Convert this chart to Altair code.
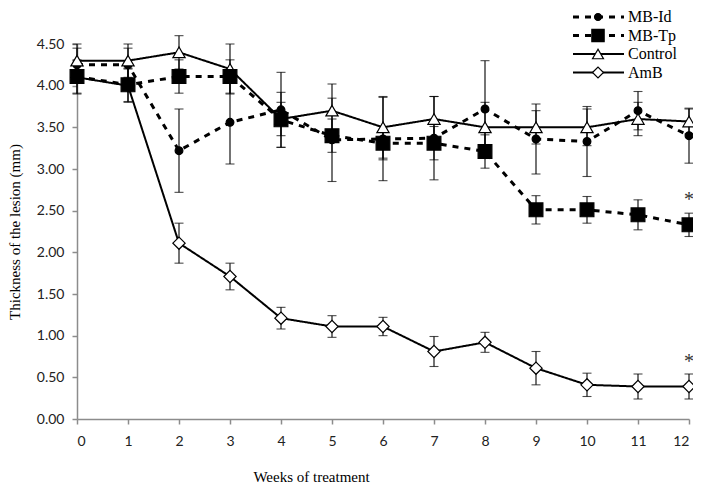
import altair as alt
import pandas as pd

weeks = list(range(13))
series_names = ["MB-Id", "MB-Tp", "Control", "AmB"]

mbid = [4.25, 4.25, 3.22, 3.56, 3.71, 3.35, 3.36, 3.37, 3.72, 3.36, 3.33, 3.70, 3.40]
mbid_err = [0.20, 0.20, 0.50, 0.50, 0.45, 0.50, 0.50, 0.50, 0.58, 0.42, 0.42, 0.23, 0.33]
mbtp = [4.11, 4.01, 4.11, 4.11, 3.59, 3.40, 3.31, 3.31, 3.21, 2.51, 2.51, 2.45, 2.33]
mbtp_err = [0.20, 0.20, 0.20, 0.20, 0.33, 0.20, 0.20, 0.20, 0.20, 0.17, 0.16, 0.18, 0.14]
control = [4.30, 4.30, 4.40, 4.20, 3.60, 3.70, 3.50, 3.60, 3.50, 3.50, 3.50, 3.60, 3.57]
control_err = [0.20, 0.20, 0.20, 0.30, 0.20, 0.32, 0.37, 0.27, 0.30, 0.20, 0.22, 0.20, 0.15]
amb = [4.10, 4.00, 2.11, 1.71, 1.21, 1.11, 1.11, 0.81, 0.92, 0.61, 0.41, 0.39, 0.39]
amb_err = [0.20, 0.20, 0.24, 0.16, 0.13, 0.13, 0.11, 0.18, 0.12, 0.20, 0.14, 0.15, 0.15]

star_weeks = [12, 12]
star_values = [2.68, 0.73]

y_ticks = [0.0, 0.5, 1.0, 1.5, 2.0, 2.5, 3.0, 3.5, 4.0, 4.5]


def frame(name, vals, errs):
    return pd.DataFrame({
        "week": weeks,
        "value": vals,
        "lo": [v - e for v, e in zip(vals, errs)],
        "hi": [v + e for v, e in zip(vals, errs)],
        "series": name,
    })


frames = {
    "MB-Id": frame("MB-Id", mbid, mbid_err),
    "MB-Tp": frame("MB-Tp", mbtp, mbtp_err),
    "Control": frame("Control", control, control_err),
    "AmB": frame("AmB", amb, amb_err),
}

styles = {
    "MB-Id": dict(dash=[6, 6], width=3, shape="circle", size=60, fill="black"),
    "MB-Tp": dict(dash=[6, 6], width=3, shape="square", size=190, fill="black"),
    "Control": dict(dash=[1, 0], width=2, shape="triangle-up", size=150, fill="white"),
    "AmB": dict(dash=[1, 0], width=2, shape="diamond", size=150, fill="white"),
}

x_scale = alt.Scale(domain=[0, 12], nice=False)
y_scale = alt.Scale(domain=[0, 4.5], nice=False)

x_axis = alt.Axis(values=weeks, title="Weeks of treatment", tickSize=5,
                  labelPadding=10, titleX=234, titleY=50, titleBaseline="top", titleAnchor=None)
y_axis = alt.Axis(values=y_ticks, format=".2f", title="Thickness of the lesion (mm)",
                  tickSize=5, labelPadding=8, titleX=-55, titleY=187.5,
                  titleAngle=-90, titleBaseline="bottom", titleAlign="center")


def X(field="week"):
    return alt.X(f"{field}:Q", scale=x_scale, axis=x_axis)


def Y(field):
    return alt.Y(f"{field}:Q", scale=y_scale, axis=y_axis)


layers = []
# error bars
for name in series_names:
    df = frames[name]
    layers.append(alt.Chart(df).mark_rule(color="black", strokeWidth=1.1).encode(
        x=X(), y=Y("lo"), y2="hi:Q"))
    layers.append(alt.Chart(df).mark_tick(color="black", orient="horizontal", size=9, thickness=1.1).encode(
        x=X(), y=Y("lo")))
    layers.append(alt.Chart(df).mark_tick(color="black", orient="horizontal", size=9, thickness=1.1).encode(
        x=X(), y=Y("hi")))
# lines
for name in ["AmB", "Control", "MB-Id", "MB-Tp"]:
    s = styles[name]
    layers.append(alt.Chart(frames[name]).mark_line(
        color="black", strokeWidth=s["width"], strokeDash=s["dash"]).encode(x=X(), y=Y("value")))
# markers
for name in ["MB-Id", "AmB", "Control", "MB-Tp"]:
    s = styles[name]
    layers.append(alt.Chart(frames[name]).mark_point(
        shape=s["shape"], size=s["size"], filled=False, fill=s["fill"], fillOpacity=1,
        stroke="black", strokeWidth=1.2, opacity=1).encode(x=X(), y=Y("value")))

# asterisks
stars = pd.DataFrame({"week": star_weeks, "value": star_values})
layers.append(alt.Chart(stars).mark_text(text="*", font="Liberation Serif", fontSize=20,
                                         baseline="middle", dy=4, color="#333").encode(
    x=X(), y=Y("value")))

# legend (drawn manually to show line + marker)
legend_y = [-27, -8.5, 10, 28.5]
for name, ly in zip(series_names, legend_y):
    s = styles[name]
    one = pd.DataFrame({"series": [name]})
    layers.append(alt.Chart(one).mark_rule(color="black", strokeWidth=s["width"], strokeDash=s["dash"]).encode(
        x=alt.value(496), x2=alt.value(547), y=alt.value(ly)))
    layers.append(alt.Chart(one).mark_point(
        shape=s["shape"], size=s["size"] * 0.8, filled=False, fill=s["fill"], fillOpacity=1,
        stroke="black", strokeWidth=1.2, opacity=1).encode(x=alt.value(521), y=alt.value(ly)))
    layers.append(alt.Chart(one).mark_text(align="left", baseline="middle", font="Liberation Serif",
                                           fontSize=16, color="black").encode(
        x=alt.value(551), y=alt.value(ly), text="series:N"))

chart = alt.layer(*layers).properties(
    width=612, height=375,
    autosize=alt.AutoSizeParams(type="none"),
    padding={"left": 69, "top": 36, "right": 4, "bottom": 64},
).configure_view(stroke=None).configure_axis(
    grid=False,
    domainColor="#8c8c8c", tickColor="#8c8c8c", domainWidth=1.5, tickWidth=1.5,
    labelFont="Lato", labelFontSize=14, labelColor="#222222",
    titleFont="Liberation Serif", titleFontSize=15, titleFontWeight="normal", titleColor="black",
)

chart.save("out.html", embed_options={"renderer": "svg", "actions": False})
